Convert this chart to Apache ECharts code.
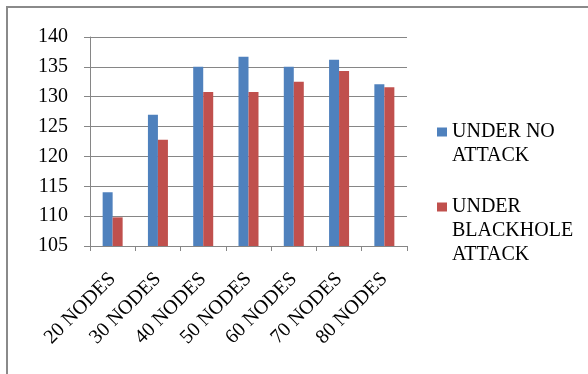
<!DOCTYPE html>
<html>
<head>
<meta charset="utf-8">
<script src="https://cdn.jsdelivr.net/npm/echarts@6/dist/echarts.min.js"></script>
<style>
  html, body { margin: 0; padding: 0; background: #fff; }
  #chart { width: 588px; height: 374px; }
</style>
</head>
<body>
<div id="chart"></div>
<script>
// Node-count categories along the x axis
const categories = ['20 NODES', '30 NODES', '40 NODES', '50 NODES', '60 NODES', '70 NODES', '80 NODES'];
// Values per scenario
const noAttack = [114, 127, 135, 136.7, 135, 136.2, 132.1];
const blackholeAttack = [109.8, 122.8, 130.8, 130.8, 132.5, 134.3, 131.6];
// Value axis range
const yMin = 105, yMax = 140, yStep = 5;

const seriesNames = ['UNDER NO ATTACK', 'UNDER BLACKHOLE ATTACK'];
const legendLabels = ['UNDER NO\nATTACK', 'UNDER\nBLACKHOLE\nATTACK'];

const FONT = "'Times New Roman', 'Liberation Serif', serif";
const GRAY = '#868686';
const LINE_H = 24;

const chart = echarts.init(document.getElementById('chart'), null, { renderer: 'canvas' });

// The legend marker sits at the middle of its text block, so blank lines are
// prepended to bring the first label line level with the marker.
function legendFor(idx, iconCenterY) {
  const lines = legendLabels[idx].split('\n');
  const pad = new Array(lines.length - 1).fill('').join('\n');
  const total = lines.length * 2 - 1;
  return {
    data: [seriesNames[idx]],
    orient: 'vertical',
    left: 437,
    top: iconCenterY - total * LINE_H / 2,
    padding: 0,
    itemWidth: 10,
    itemHeight: 9,
    itemGap: 0,
    icon: 'rect',
    selectedMode: false,
    formatter: () => pad + '\n' + legendLabels[idx],
    textStyle: {
      fontFamily: FONT,
      fontSize: 20,
      color: '#000',
      lineHeight: LINE_H
    }
  };
}

chart.setOption({
  animation: false,
  graphic: [{
    type: 'rect',
    shape: { x: 7, y: 7, width: 600, height: 400 },
    style: { fill: 'none', stroke: '#8a8a8a', lineWidth: 2 },
    silent: true,
    z: 100
  }],
  legend: [legendFor(0, 132), legendFor(1, 207)],
  grid: { left: 90, right: 181, top: 37, bottom: 128, containLabel: false },
  xAxis: {
    type: 'category',
    data: categories,
    axisLine: { lineStyle: { color: GRAY, width: 1 } },
    axisTick: { show: true, alignWithLabel: false, length: 5, lineStyle: { color: GRAY } },
    axisLabel: {
      interval: 0,
      rotate: 45,
      margin: 30,
      fontFamily: FONT,
      fontSize: 20,
      color: '#000'
    }
  },
  yAxis: {
    type: 'value',
    min: yMin,
    max: yMax,
    interval: yStep,
    axisLine: { show: true, lineStyle: { color: GRAY, width: 1 } },
    axisTick: { show: true, length: 6, lineStyle: { color: GRAY } },
    splitLine: { show: true, lineStyle: { color: GRAY, width: 1 } },
    axisLabel: {
      margin: 22,
      fontFamily: FONT,
      fontSize: 20,
      color: '#000'
    }
  },
  series: [
    {
      name: seriesNames[0],
      type: 'bar',
      data: noAttack,
      barWidth: 10,
      barGap: '0%',
      itemStyle: { color: '#4F81BD' }
    },
    {
      name: seriesNames[1],
      type: 'bar',
      data: blackholeAttack,
      barWidth: 10,
      barGap: '0%',
      itemStyle: { color: '#C0504D' }
    }
  ]
});
</script>
</body>
</html>
